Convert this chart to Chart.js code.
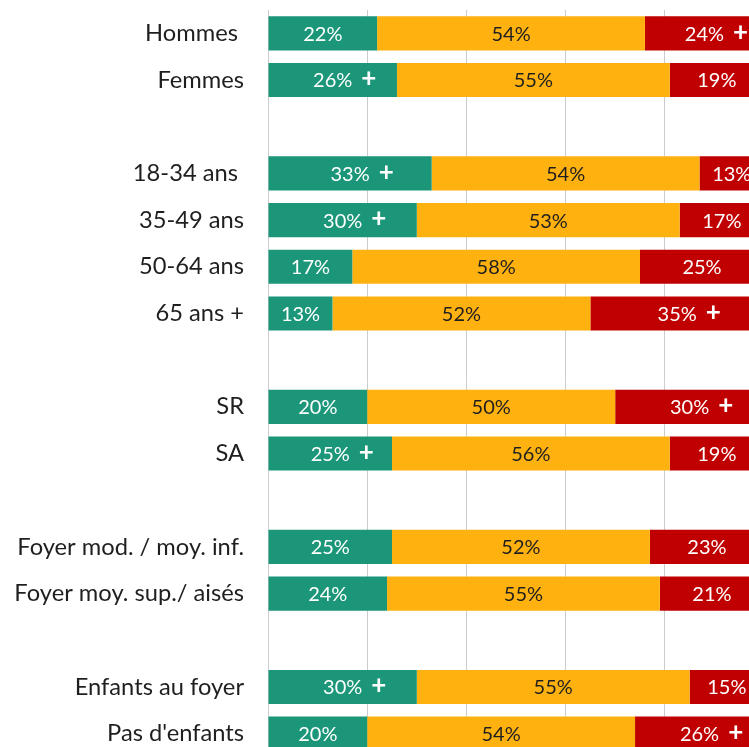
<!DOCTYPE html>
<html>
<head>
<meta charset="utf-8">
<script src="https://cdn.jsdelivr.net/npm/chart.js@4.4.0/dist/chart.umd.min.js"></script>
<style>
html, body { margin: 0; padding: 0; background: #fff; overflow: hidden; }
#wrap { position: absolute; left: 0; top: 0; width: 764px; height: 757px; }
</style>
</head>
<body>
<div id="wrap"><canvas id="myChart"></canvas></div>
<script>
// rows, with empty rows as spacers between groups
var categories = ['Hommes ', 'Femmes', '', '18-34 ans ', '35-49 ans', '50-64 ans', '65 ans +', '',
                  'SR', 'SA', '', 'Foyer mod. / moy. inf.', 'Foyer moy. sup./ aisés', '',
                  'Enfants au foyer', "Pas d'enfants"];
var greenValues  = [22, 26, null, 33, 30, 17, 13, null, 20, 25, null, 25, 24, null, 30, 20];
var orangeValues = [54, 55, null, 54, 53, 58, 52, null, 50, 56, null, 52, 55, null, 55, 54];
var redValues    = [24, 19, null, 13, 17, 25, 35, null, 30, 19, null, 23, 21, null, 15, 26];
// "+" marks (significantly higher)
var greenPlus  = [false, true, false, true, true, false, false, false, false, true, false, false, false, false, true, false];
var orangePlus = [false, false, false, false, false, false, false, false, false, false, false, false, false, false, false, false];
var redPlus    = [true, false, false, false, false, false, true, false, true, false, false, false, false, false, false, true];

var labelPlugin = {
    id: 'segmentLabels',
    afterDatasetsDraw: function(chart) {
        var ctx = chart.ctx;
        chart.data.datasets.forEach(function(ds, i) {
            var meta = chart.getDatasetMeta(i);
            meta.data.forEach(function(bar, j) {
                var v = ds.data[j];
                if (v === null || v === undefined) return;
                var cx = (bar.x + bar.base) / 2;
                var text = v + '%';
                ctx.save();
                ctx.font = '20px Lato';
                ctx.fillStyle = ds.labelColor;
                ctx.textAlign = 'center';
                ctx.textBaseline = 'middle';
                ctx.fillText(text, cx, bar.y + 1);
                if (ds.plus[j]) {
                    var w = ctx.measureText(text).width;
                    ctx.font = 'bold 26px Lato';
                    ctx.textAlign = 'left';
                    ctx.fillText('+', cx + w / 2 + 9, bar.y - 1);
                }
                ctx.restore();
            });
        });
    }
};

var ctx = document.getElementById('myChart').getContext('2d');
var myChart = new Chart(ctx, {
    type: 'bar',
    data: {
        labels: categories,
        datasets: [
            { data: greenValues, backgroundColor: '#1B9679', labelColor: '#ffffff', plus: greenPlus },
            { data: orangeValues, backgroundColor: '#FFB20F', labelColor: '#1f1f1f', plus: orangePlus },
            { data: redValues, backgroundColor: '#C00000', labelColor: '#ffffff', plus: redPlus }
        ]
    },
    options: {
        indexAxis: 'y',
        responsive: true,
        maintainAspectRatio: false,
        animation: false,
        layout: { padding: { top: 10, left: 0, right: 0, bottom: 0 } },
        datasets: { bar: { categoryPercentage: 1, barPercentage: 0.73 } },
        plugins: { legend: { display: false }, tooltip: { enabled: false } },
        scales: {
            x: {
                stacked: true,
                min: 0,
                max: 100,
                ticks: { display: false, stepSize: 20 },
                grid: { color: '#cccccc', lineWidth: 1, drawTicks: false },
                border: { display: false },
                afterFit: function(s) { s.height = 0; s.paddingLeft = 0; s.paddingRight = 0; }
            },
            y: {
                stacked: true,
                grid: { display: false, drawTicks: false },
                border: { display: false },
                ticks: { padding: 24, color: '#1f1f1f', font: { family: 'Lato', size: 23.7 } },
                afterFit: function(s) { s.width = 268; s.paddingTop = 0; s.paddingBottom = 0; }
            }
        }
    },
    plugins: [labelPlugin]
});
</script>
</body>
</html>
